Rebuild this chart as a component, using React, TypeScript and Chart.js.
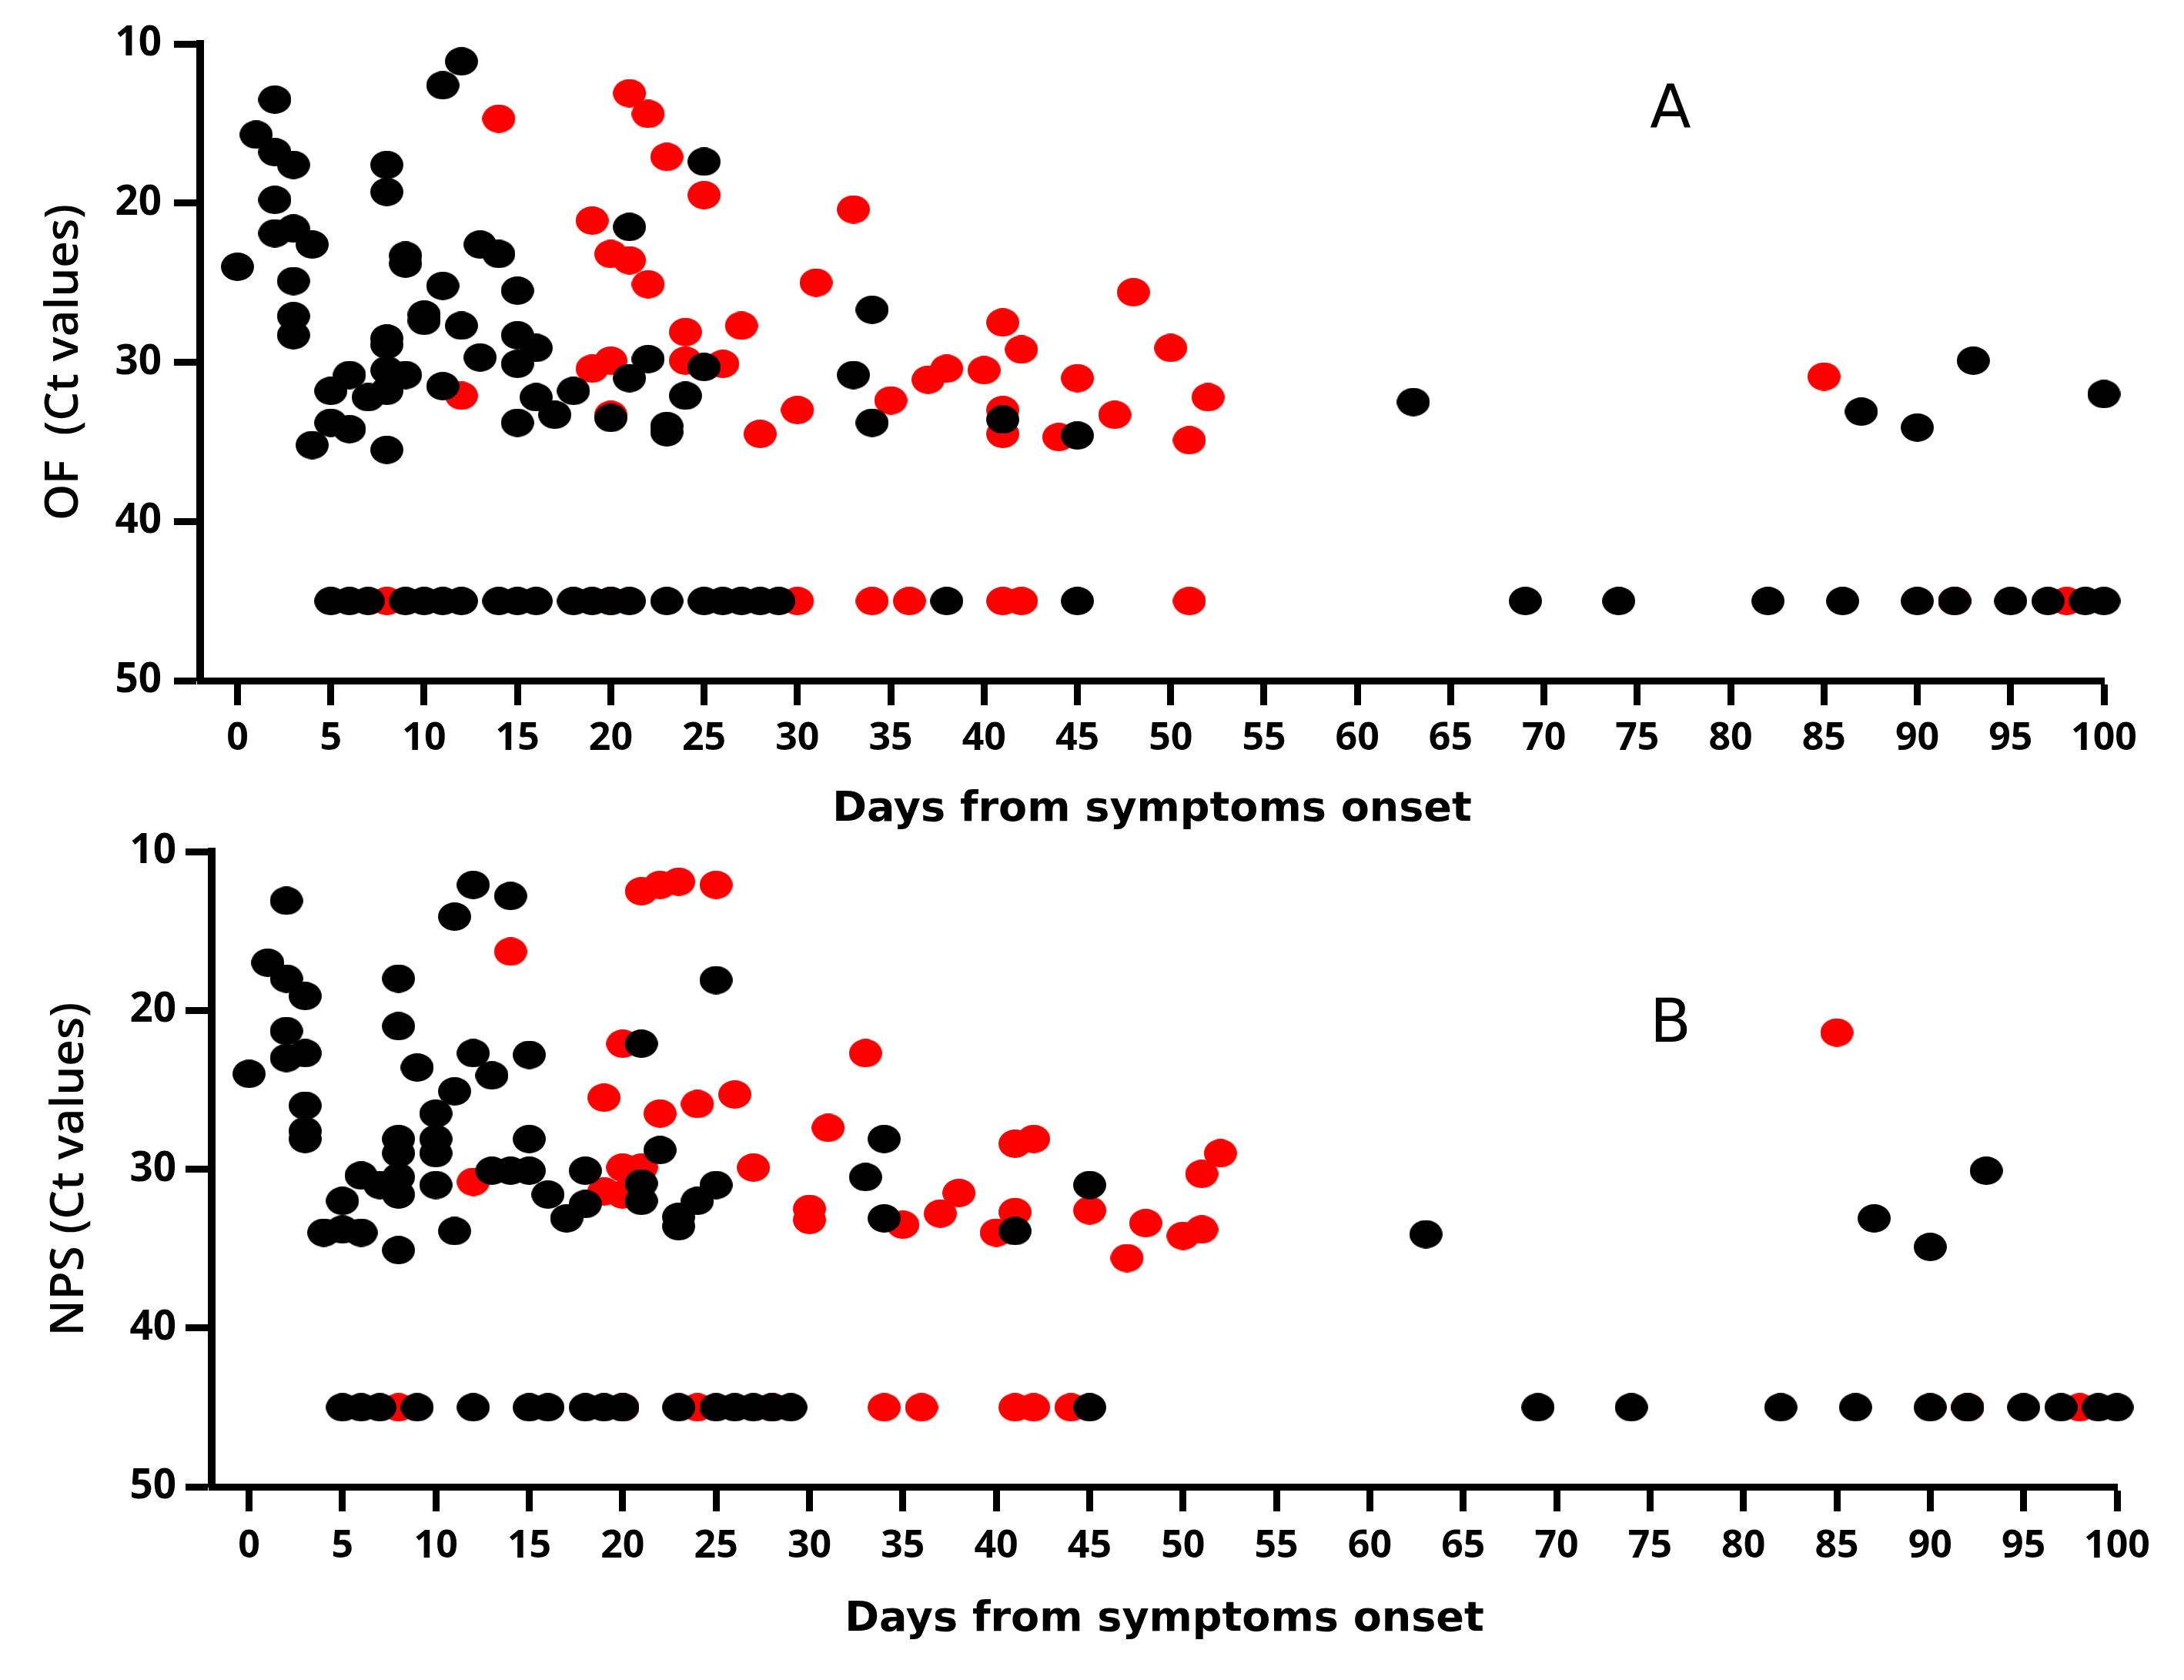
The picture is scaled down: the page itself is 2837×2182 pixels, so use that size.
import React, { useEffect, useRef } from "react";
import { Chart, registerables } from "chart.js";

Chart.register(...registerables);

// Ct value used to plot samples with no amplification
const UNDETECTED_CT = 45;

const dayTicks = [0, 5, 10, 15, 20, 25, 30, 35, 40, 45, 50, 55, 60, 65, 70, 75, 80, 85, 90, 95, 100];
const ctTicks = [10, 20, 30, 40, 50];

// Panel A - oral fluid (OF), [day, Ct]
const ofBlackPoints: [number, number][] = [
  [0, 24.0], [1, 15.7], [2, 13.5], [2, 16.8], [3, 17.6], [2, 19.8], [2, 21.9], [3, 21.6],
  [4, 22.6], [3, 24.9], [3, 27.1], [3, 28.3], [4, 35.2], [5, 31.8], [6, 30.8], [5, 33.8],
  [6, 34.2], [7, 32.2], [8, 17.6], [8, 19.3], [8, 28.5], [8, 28.9], [8, 30.5], [8, 31.8],
  [8, 35.5], [9, 23.3], [9, 23.8], [9, 30.8], [10, 27.0], [10, 27.4], [11, 12.6], [11, 25.2],
  [11, 31.5], [12, 11.1], [12, 27.7], [13, 22.6], [13, 29.7], [14, 23.2], [15, 25.5], [15, 28.3],
  [15, 30.1], [15, 33.8], [16, 29.1], [16, 32.2], [17, 33.3], [18, 31.8], [20, 33.5], [21, 21.5],
  [21, 31.0], [22, 29.8], [23, 34.0], [23, 34.4], [24, 32.1], [25, 17.4], [25, 30.3], [33, 30.8],
  [34, 26.7], [34, 33.8], [41, 33.6], [45, 34.6], [63, 32.5], [87, 33.1], [90, 34.1], [93, 29.9],
  [100, 32.0],
];
const ofBlackUndetectedDays = [
  5, 6, 7, 9, 10, 11, 12, 14, 15, 16, 18, 19, 20, 21, 23, 25, 26, 27, 28, 29, 38, 45,
  69, 74, 82, 86, 90, 92, 95, 97, 99, 100,
];
const ofRedPoints: [number, number][] = [
  [14, 14.7], [21, 13.1], [22, 14.4], [23, 17.1], [25, 19.5], [19, 21.1], [20, 23.2], [21, 23.6],
  [22, 25.1], [24, 28.1], [27, 27.7], [31, 25.0], [33, 20.4], [12, 32.1], [19, 30.4], [20, 29.9],
  [24, 29.9], [26, 30.1], [20, 33.3], [28, 34.5], [30, 33.0], [35, 32.4], [37, 31.1], [38, 30.4],
  [40, 30.5], [41, 27.5], [42, 29.2], [41, 33.0], [41, 34.5], [44, 34.7], [45, 31.0], [47, 33.3],
  [48, 25.6], [50, 29.1], [51, 34.9], [52, 32.2], [85, 30.9],
];
const ofRedUndetectedDays = [8, 20, 30, 34, 36, 41, 42, 51, 92, 98];

// Panel B - nasopharyngeal swab (NPS), [day, Ct]
const npsBlackPoints: [number, number][] = [
  [0, 24.0], [1, 17.0], [2, 13.1], [2, 18.0], [3, 19.1], [2, 21.3], [2, 23.0], [3, 22.7],
  [3, 26.0], [3, 27.6], [3, 28.1], [4, 34.0], [5, 32.0], [5, 33.8], [6, 34.0], [6, 30.4],
  [7, 31.0], [8, 18.0], [8, 21.0], [8, 28.1], [8, 29.0], [8, 30.5], [8, 31.6], [8, 35.1],
  [9, 23.6], [10, 26.5], [10, 28.1], [10, 29.0], [10, 31.0], [11, 14.1], [11, 25.1], [11, 33.9],
  [12, 12.1], [12, 22.7], [13, 24.1], [13, 30.1], [14, 12.8], [14, 30.1], [15, 22.8], [15, 28.1],
  [15, 30.1], [16, 31.6], [17, 33.1], [18, 30.1], [18, 32.2], [21, 22.1], [21, 30.9], [21, 32.0],
  [22, 28.8], [23, 33.0], [23, 33.6], [24, 32.0], [25, 18.1], [25, 31.0], [33, 30.5], [34, 28.1],
  [34, 33.1], [41, 33.9], [45, 31.0], [63, 34.1], [87, 33.1], [90, 34.9], [93, 30.1],
];
const npsBlackUndetectedDays = [
  5, 6, 7, 9, 12, 15, 16, 18, 19, 20, 23, 25, 26, 27, 28, 29, 45,
  69, 74, 82, 86, 90, 92, 95, 97, 99, 100,
];
const npsRedPoints: [number, number][] = [
  [14, 16.3], [21, 12.5], [22, 12.1], [23, 11.9], [25, 12.1], [20, 22.1], [19, 25.5], [22, 26.5],
  [24, 25.9], [26, 25.3], [31, 27.4], [27, 29.9], [20, 29.9], [21, 29.9], [12, 30.8], [19, 31.4],
  [20, 31.6], [30, 32.5], [30, 33.2], [33, 22.7], [35, 33.5], [37, 32.8], [38, 31.5], [40, 34.0],
  [41, 28.4], [42, 28.1], [41, 32.7], [45, 32.6], [47, 35.6], [48, 33.4], [50, 34.2], [51, 33.8],
  [51, 30.3], [52, 29.0], [85, 21.4],
];
const npsRedUndetectedDays = [8, 20, 24, 28, 34, 36, 41, 42, 44, 92, 98];

const PAGE_W = 2837;

// slightly wide dots, as in the figure
function makeDot(color: string) {
  const c = document.createElement("canvas");
  c.width = 43;
  c.height = 37;
  const g = c.getContext("2d")!;
  g.fillStyle = color;
  g.beginPath();
  g.ellipse(21.5, 18.5, 21.5, 18.5, 0, 0, Math.PI * 2);
  g.fill();
  return c;
}

const panelLabel = {
  id: "panelLabel",
  afterDraw(chart: any, _args: any, opts: any) {
    const { ctx } = chart;
    ctx.save();
    ctx.font = "78px 'DejaVu Sans'";
    ctx.fillStyle = "#000";
    ctx.textAlign = "center";
    ctx.textBaseline = "alphabetic";
    ctx.fillText(opts.text, opts.x, opts.y);
    ctx.restore();
  },
};

interface PanelProps {
  label: string;
  yTitle: string;
  black: [number, number][];
  blackUndetected: number[];
  red: [number, number][];
  redUndetected: number[];
  top: number;
  height: number;
  axisLeft: number;
  axisRight: number;
  plotTop: number;
  plotBottom: number;
  yTitlePad: number;
  xTitlePad: number;
  xTickPad: number;
  yTickPad: number;
  labelY: number;
}

function Panel(p: PanelProps) {
  const ref = useRef<HTMLCanvasElement>(null);

  useEffect(() => {
    if (!ref.current) return;
    const toXY = (pts: [number, number][]) => pts.map(([x, y]) => ({ x, y }));
    const undet = (days: number[]) => days.map((x) => ({ x, y: UNDETECTED_CT }));

    const chart = new Chart(ref.current, {
      type: "scatter",
      data: {
        datasets: [
          {
            label: "black",
            data: [...toXY(p.black), ...undet(p.blackUndetected)],
            pointStyle: makeDot("#000000"),
            pointRadius: 21,
            clip: false,
          },
          {
            label: "red",
            data: [...toXY(p.red), ...undet(p.redUndetected)],
            pointStyle: makeDot("#ff0000"),
            pointRadius: 21,
            clip: false,
          },
        ],
      },
      options: {
        animation: false,
        responsive: false,
        devicePixelRatio: 1,
        events: [],
        layout: {
          padding: { left: 0, top: p.plotTop, right: PAGE_W - p.axisRight, bottom: 0 },
        },
        plugins: {
          legend: { display: false },
          tooltip: { enabled: false },
          panelLabel: { text: p.label, x: 2170, y: p.labelY },
        } as any,
        scales: {
          x: {
            type: "linear",
            min: -2,
            max: 100,
            afterBuildTicks: (scale: any) => {
              scale.ticks = dayTicks.map((v) => ({ value: v }));
            },
            afterFit: (scale: any) => {
              scale.height = p.height - p.plotBottom;
            },
            grid: {
              drawOnChartArea: false,
              drawTicks: true,
              tickLength: 32,
              tickWidth: 9,
              tickColor: "#000",
            },
            border: { display: true, color: "#000", width: 9 },
            ticks: {
              autoSkip: false,
              maxRotation: 0,
              padding: p.xTickPad,
              color: "#000",
              font: { family: "'Open Sans'", size: 50, weight: "bold" },
            },
            title: {
              display: true,
              text: "Days from symptoms onset",
              color: "#000",
              font: { family: "'DejaVu Sans'", size: 54, weight: "bold" },
              padding: { top: 0, bottom: p.xTitlePad },
            },
          },
          y: {
            type: "linear",
            reverse: true,
            min: 10,
            max: 50,
            afterBuildTicks: (scale: any) => {
              scale.ticks = ctTicks.map((v) => ({ value: v }));
            },
            afterFit: (scale: any) => {
              scale.width = p.axisLeft;
            },
            grid: {
              drawOnChartArea: false,
              drawTicks: true,
              tickLength: 34,
              tickWidth: 9,
              tickColor: "#000",
            },
            border: { display: true, color: "#000", width: 10 },
            ticks: {
              padding: p.yTickPad,
              color: "#000",
              font: { family: "'Open Sans'", size: 53, weight: "bold" },
            },
            title: {
              display: true,
              text: p.yTitle,
              color: "#000",
              font: { family: "'Open Sans'", size: 60, weight: 600 },
              padding: { top: p.yTitlePad, bottom: 0 },
            },
          },
        },
      },
      plugins: [panelLabel],
    });

    return () => chart.destroy();
  }, []);

  return (
    <canvas
      ref={ref}
      width={PAGE_W}
      height={p.height}
      style={{ position: "absolute", left: 0, top: p.top, width: PAGE_W, height: p.height }}
    />
  );
}

export default function App() {
  return (
    <div
      style={{
        position: "absolute",
        left: 0,
        top: 0,
        width: PAGE_W,
        height: 2182,
        background: "#fff",
        overflow: "hidden",
      }}
    >
      <Panel
        label="A"
        yTitle="OF  (Ct values)"
        black={ofBlackPoints}
        blackUndetected={ofBlackUndetectedDays}
        red={ofRedPoints}
        redUndetected={ofRedUndetectedDays}
        top={0}
        height={1091}
        axisLeft={260}
        axisRight={2733}
        plotTop={57}
        plotBottom={884}
        yTitlePad={48}
        xTitlePad={7}
        xTickPad={14}
        yTickPad={16}
        labelY={166}
      />
      <Panel
        label="B"
        yTitle="NPS (Ct values)"
        black={npsBlackPoints}
        blackUndetected={npsBlackUndetectedDays}
        red={npsRedPoints}
        redUndetected={npsRedUndetectedDays}
        top={1050}
        height={1132}
        axisLeft={275}
        axisRight={2750}
        plotTop={56}
        plotBottom={881}
        yTitlePad={55}
        xTitlePad={46}
        xTickPad={16}
        yTickPad={12}
        labelY={303}
      />
    </div>
  );
}
